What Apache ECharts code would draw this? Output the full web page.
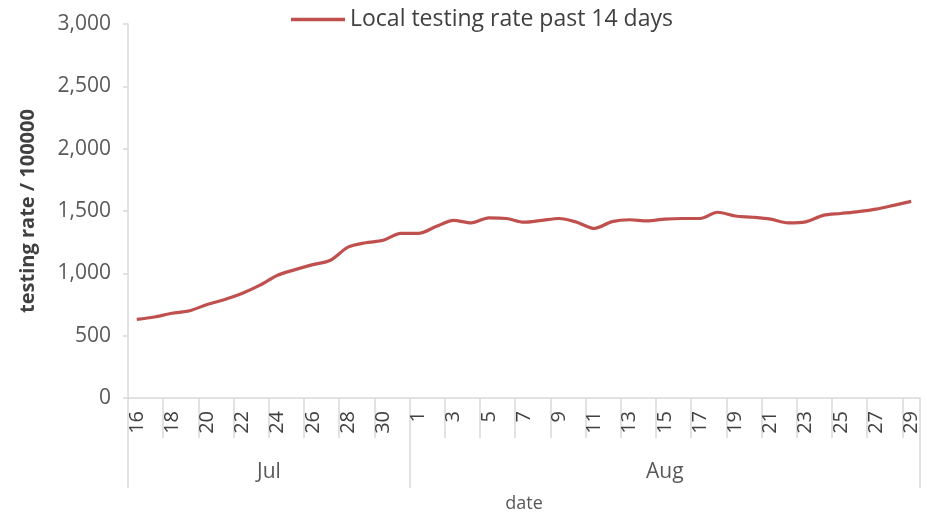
<!DOCTYPE html>
<html>
<head>
<meta charset="utf-8">
<script src="https://cdn.jsdelivr.net/npm/echarts@6.0.0/dist/echarts.min.js"></script>
<style>
html,body{margin:0;padding:0;background:#fff;overflow:hidden;}
#chart{width:927px;height:518px;}
</style>
</head>
<body>
<div id="chart"></div>
<script>
// ---- data ----
const days = ['16','17','18','19','20','21','22','23','24','25','26','27','28','29','30','31',
  '1','2','3','4','5','6','7','8','9','10','11','12','13','14','15','16','17','18','19','20',
  '21','22','23','24','25','26','27','28','29'];
const months = ['Jul','Aug'];
const monthDays = [16, 29];
const testingRate = [630,650,680,700,750,790,840,905,985,1030,1070,1105,1210,1245,1265,1320,
  1320,1375,1425,1405,1445,1440,1410,1425,1440,1410,1360,1415,1430,1420,1435,1440,1440,1490,
  1460,1450,1435,1405,1413,1465,1480,1495,1515,1545,1577];
const yTicks = [0, 500, 1000, 1500, 2000, 2500, 3000];
const seriesName = 'Local testing rate past 14 days';

// month level axis helpers
const monthStarts = [];
const monthAxisData = days.map(() => '');
const monthHalf = [];
let acc = 0;
months.forEach((m, k) => {
  monthStarts.push(acc);
  const mid = acc + monthDays[k] / 2;
  const idx = Math.floor(mid - 0.5 + 1e-9);
  monthAxisData[idx] = m;
  monthHalf.push(Math.abs(mid - 0.5 - idx) > 1e-6 ? m : null);
  acc += monthDays[k];
});

const FONT = '"Open Sans", "Liberation Sans", sans-serif';
const chart = echarts.init(document.getElementById('chart'), null, {renderer: 'canvas'});
chart.setOption({
  animation: false,
  backgroundColor: '#ffffff',
  textStyle: {fontFamily: FONT},
  grid: {left: 128, right: 7, top: 24, bottom: 116, containLabel: false},
  legend: {
    data: [seriesName],
    left: 291, top: 8, padding: 0,
    icon: 'rect',
    itemWidth: 54, itemHeight: 3.5, itemGap: 10,
    textStyle: {fontSize: 23, color: '#404040', fontFamily: FONT}
  },
  xAxis: [
    {
      type: 'category',
      data: days,
      boundaryGap: true,
      name: 'date',
      nameLocation: 'middle',
      nameGap: 97,
      nameTextStyle: {fontSize: 18, color: '#595959', fontFamily: FONT, verticalAlign: 'top'},
      axisLine: {show: true, lineStyle: {color: '#d9d9d9', width: 1.5}},
      axisTick: {show: true, interval: 1, length: 40, lineStyle: {color: '#d9d9d9', width: 1.5}},
      axisLabel: {interval: 1, rotate: 90, margin: 13, fontSize: 20, color: '#404040', fontFamily: FONT},
      splitLine: {show: false}
    },
    {
      type: 'category',
      data: monthAxisData,
      boundaryGap: true,
      position: 'bottom',
      offset: 0,
      axisLine: {show: false},
      axisTick: {
        show: true, length: 90,
        interval: (i) => monthStarts.indexOf(i) >= 0,
        lineStyle: {color: '#d9d9d9', width: 1.5}
      },
      axisLabel: {
        interval: (i, v) => v !== '',
        margin: 64,
        fontSize: 21,
        color: '#595959',
        fontFamily: FONT,
        formatter: (v) => monthHalf.indexOf(v) >= 0 ? '{h|' + v + '}' : v,
        rich: {h: {fontSize: 21, color: '#595959', fontFamily: FONT, padding: [0, 0, 0, 18]}}
      },
      splitLine: {show: false}
    }
  ],
  yAxis: {
    type: 'value',
    min: yTicks[0],
    max: yTicks[yTicks.length - 1],
    interval: yTicks[1] - yTicks[0],
    name: 'testing rate / 100000',
    nameLocation: 'middle',
    nameGap: 90,
    nameRotate: 90,
    nameTextStyle: {fontSize: 20, fontWeight: 'bold', color: '#404040', fontFamily: FONT},
    axisLine: {show: true, lineStyle: {color: '#d9d9d9', width: 1.5}},
    axisTick: {show: true, length: 5, lineStyle: {color: '#d9d9d9', width: 1.5}},
    axisLabel: {
      fontSize: 21, color: '#595959', margin: 17, fontFamily: FONT,
      formatter: (v) => v.toLocaleString('en-US')
    },
    splitLine: {show: false}
  },
  series: [{
    name: seriesName,
    type: 'line',
    data: testingRate,
    symbol: 'none',
    smooth: 0.3,
    lineStyle: {color: '#c0504d', width: 3.2},
    itemStyle: {color: '#c0504d'}
  }]
});
</script>
</body>
</html>
